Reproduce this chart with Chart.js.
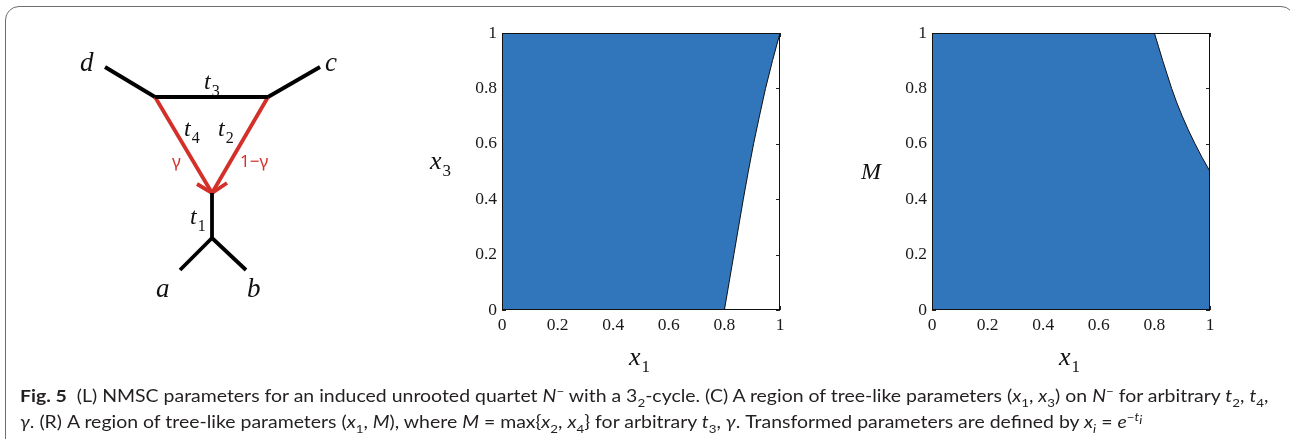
<!DOCTYPE html>
<html>
<head>
<meta charset="utf-8">
<script src="https://cdn.jsdelivr.net/npm/chart.js@4"></script>
<style>
body{margin:0;background:#fff;width:1290px;height:439px;overflow:hidden;position:relative;}
#box{position:absolute;left:5px;top:6px;width:1290px;height:470px;border:1.5px solid #6e6e6e;border-radius:14px;box-sizing:border-box;}
canvas{position:absolute;}
#net{left:0;top:0;}
#cen{left:420px;top:0;}
#rgt{left:850px;top:0;}
.cap{position:absolute;left:20px;font-family:Lato,"Noto Sans",sans-serif;font-size:17.5px;color:#231f20;white-space:nowrap;transform-origin:0 0;line-height:1;}
.cap sub,.cap sup{font-size:12px;line-height:0;}
</style>
</head>
<body>
<div id="box"></div>
<canvas id="net" width="420" height="330"></canvas>
<canvas id="cen" width="380" height="385"></canvas>
<canvas id="rgt" width="380" height="385"></canvas>
<div class="cap" id="cap1" style="top:387px"><b>Fig. 5</b>&nbsp;&nbsp;(L) NMSC parameters for an induced unrooted quartet <i>N</i><sup>−</sup> with a 3<sub>2</sub>-cycle. (C) A region of tree-like parameters (<i>x</i><sub>1</sub>, <i>x</i><sub>3</sub>) on <i>N</i><sup>−</sup> for arbitrary <i>t</i><sub>2</sub>, <i>t</i><sub>4</sub>,</div>
<div class="cap" id="cap2" style="top:413px"><i>γ</i>. (R) A region of tree-like parameters (<i>x</i><sub>1</sub>, <i>M</i>), where <i>M</i> = max{<i>x</i><sub>2</sub>, <i>x</i><sub>4</sub>} for arbitrary <i>t</i><sub>3</sub>, <i>γ</i>. Transformed parameters are defined by <i>x<sub>i</sub></i> = <i>e</i><sup>−<i>t<sub>i</sub></i></sup></div>
<script>
// tick values shared by both plots
const tickVals = [0, 0.2, 0.4, 0.6, 0.8, 1];
const tickText = ['0', '0.2', '0.4', '0.6', '0.8', '1'];

// (C) lower edge of the tree-like region, x3 against x1
const cenX1 = [0, 0.8, 0.817, 0.834, 0.851, 0.868, 0.886, 0.905, 0.926, 0.948, 0.973, 1];
const cenX3 = [0, 0, 0.1, 0.2, 0.3, 0.4, 0.5, 0.6, 0.7, 0.8, 0.9, 1];

// (R) upper edge of the tree-like region, M against x1
const rgtX1 = [0, 0.8, 0.815, 0.83, 0.846, 0.862, 0.88, 0.9, 0.922, 0.946, 0.972, 1];
const rgtM = [1, 1, 0.95, 0.9, 0.85, 0.8, 0.75, 0.7, 0.65, 0.6, 0.55, 0.5];

// (L) network drawing, node positions
const netNodes = {
    d: [105, 67], c: [320, 67], u: [155, 97], v: [268, 97],
    h: [212, 193], r: [212, 238], a: [180, 270], b: [246, 270],
    barbL: [197, 184], barbR: [227, 183]
};
const blackEdges = [['d', 'u'], ['u', 'v'], ['v', 'c'], ['h', 'r'], ['r', 'a'], ['r', 'b']];
const redEdges = [['u', 'h'], ['v', 'h'], ['barbL', 'h', 'barbR']];

const BLUE = '#3176ba';
const RED = '#d3302a';
const SERIF = '"Liberation Serif", "DejaVu Serif", serif';

function pts(xs, ys) {
    return xs.map((x, i) => ({ x: x, y: ys[i] }));
}

// text with an optional subscript, x/y are pixel positions (left, baseline)
function drawSub(ctx, x, y, main, sub, size, subSize, color, font) {
    ctx.save();
    ctx.fillStyle = color;
    ctx.textBaseline = 'alphabetic';
    ctx.textAlign = 'left';
    ctx.font = 'italic ' + size + 'px ' + (font || SERIF);
    ctx.fillText(main, x, y);
    if (sub) {
        const w = ctx.measureText(main).width;
        ctx.font = subSize + 'px ' + (font || SERIF);
        ctx.fillText(sub, x + w + 1, y + Math.round(size * 0.28));
    }
    ctx.restore();
}

const labelPlugin = {
    id: 'labels',
    afterDraw(chart) {
        const items = chart.options.plugins.labels.items || [];
        const ctx = chart.ctx;
        items.forEach(it => {
            if (it.plain) {
                ctx.save();
                ctx.fillStyle = it.color;
                ctx.font = it.size + 'px ' + it.font;
                ctx.textAlign = 'left';
                ctx.fillText(it.text, it.x, it.y);
                ctx.restore();
            } else {
                drawSub(ctx, it.x, it.y, it.text, it.sub, it.size, it.subSize, it.color || '#111');
            }
        });
    }
};

const framePlugin = {
    id: 'frame',
    beforeDatasetsDraw(chart) {
        if (!chart.options.plugins.frame.on) return;
        const ctx = chart.ctx, a = chart.chartArea;
        const xs = chart.scales.x, ys = chart.scales.y;
        ctx.save();
        ctx.strokeStyle = '#222';
        ctx.lineWidth = 1;
        ctx.beginPath();
        tickVals.forEach(v => {
            const px = Math.round(xs.getPixelForValue(v)) + 0.5;
            const py = Math.round(ys.getPixelForValue(v)) + 0.5;
            ctx.moveTo(px, a.bottom); ctx.lineTo(px, a.bottom - 4);
            ctx.moveTo(px, a.top); ctx.lineTo(px, a.top + 4);
            ctx.moveTo(a.left, py); ctx.lineTo(a.left + 4, py);
            ctx.moveTo(a.right, py); ctx.lineTo(a.right - 4, py);
        });
        ctx.stroke();
        ctx.restore();
    },
    afterDatasetsDraw(chart) {
        if (!chart.options.plugins.frame.on) return;
        const ctx = chart.ctx, a = chart.chartArea;
        ctx.save();
        ctx.strokeStyle = '#111';
        ctx.lineWidth = 1;
        ctx.strokeRect(a.left + 0.5, a.top + 0.5, a.right - a.left - 1, a.bottom - a.top - 1);
        ctx.restore();
    }
};

Chart.register(labelPlugin, framePlugin);

function axis(pos) {
    return {
        type: 'linear',
        position: pos,
        min: 0,
        max: 1,
        afterBuildTicks: s => { s.ticks = tickVals.map(v => ({ value: v })); },
        ticks: {
            callback: (v, i) => tickText[i],
            font: { family: SERIF, size: 17.5 },
            color: '#1a1a1a',
            padding: 5,
            autoSkip: false,
            maxRotation: 0
        },
        grid: { display: false, drawTicks: false },
        border: { display: false },
        afterFit: s => {
            if (pos === 'left') s.width = 82;
            else s.height = 75;
        }
    };
}

function regionChart(id, data, fill, labels) {
    return new Chart(document.getElementById(id), {
        type: 'scatter',
        data: {
            datasets: [{
                data: data,
                showLine: true,
                fill: fill,
                backgroundColor: BLUE,
                borderColor: '#111',
                borderWidth: 1,
                pointRadius: 0,
                tension: 0
            }]
        },
        options: {
            responsive: false,
            animation: false,
            events: [],
            layout: { padding: { top: 33, right: 20, left: 0, bottom: 0 } },
            plugins: {
                legend: { display: false },
                tooltip: { enabled: false },
                frame: { on: true },
                labels: { items: labels }
            },
            scales: { x: axis('bottom'), y: axis('left') }
        }
    });
}

function buildNetwork() {
    const sets = [];
    blackEdges.forEach(e => sets.push({ path: e, color: '#000' }));
    redEdges.forEach(e => sets.push({ path: e, color: RED }));
    new Chart(document.getElementById('net'), {
        type: 'scatter',
        data: {
            datasets: sets.map(s => ({
                data: s.path.map(n => ({ x: netNodes[n][0], y: netNodes[n][1] })),
                showLine: true,
                borderColor: s.color,
                borderWidth: 3.8,
                borderJoinStyle: 'miter',
                pointRadius: 0,
                fill: false
            }))
        },
        options: {
            responsive: false,
            animation: false,
            events: [],
            layout: { padding: 0 },
            plugins: {
                legend: { display: false },
                tooltip: { enabled: false },
                frame: { on: false },
                labels: {
                    items: [
                        { x: 80, y: 71, text: 'd', size: 27 },
                        { x: 325, y: 71, text: 'c', size: 27 },
                        { x: 156, y: 297, text: 'a', size: 27 },
                        { x: 247, y: 297, text: 'b', size: 27 },
                        { x: 204, y: 89, text: 't', sub: '3', size: 24, subSize: 16 },
                        { x: 184, y: 136, text: 't', sub: '4', size: 24, subSize: 16 },
                        { x: 218, y: 136, text: 't', sub: '2', size: 24, subSize: 16 },
                        { x: 190, y: 224, text: 't', sub: '1', size: 24, subSize: 16 },
                        { plain: true, x: 172, y: 167, text: 'γ', size: 17, font: '"Noto Sans", sans-serif', color: RED },
                        { plain: true, x: 240, y: 167, text: '1−γ', size: 17, font: '"Noto Sans", sans-serif', color: RED }
                    ]
                }
            },
            scales: {
                x: { type: 'linear', min: 0, max: 420, display: false },
                y: { type: 'linear', min: 0, max: 330, reverse: true, display: false }
            }
        }
    });
}

function fitCaption() {
    const c1 = document.getElementById('cap1');
    const c2 = document.getElementById('cap2');
    const k = 1248 / c1.scrollWidth;
    c1.style.transform = 'scaleX(' + k + ')';
    c2.style.transform = 'scaleX(' + k + ')';
}

buildNetwork();
regionChart('cen', pts(cenX1, cenX3), 'end', [
    { x: 10, y: 169, text: 'x', sub: '3', size: 26, subSize: 17 },
    { x: 209, y: 365, text: 'x', sub: '1', size: 26, subSize: 17 }
]);
regionChart('rgt', pts(rgtX1, rgtM), 'origin', [
    { x: 11, y: 179, text: 'M', size: 24 },
    { x: 209, y: 365, text: 'x', sub: '1', size: 26, subSize: 17 }
]);
fitCaption();
</script>
</body>
</html>
